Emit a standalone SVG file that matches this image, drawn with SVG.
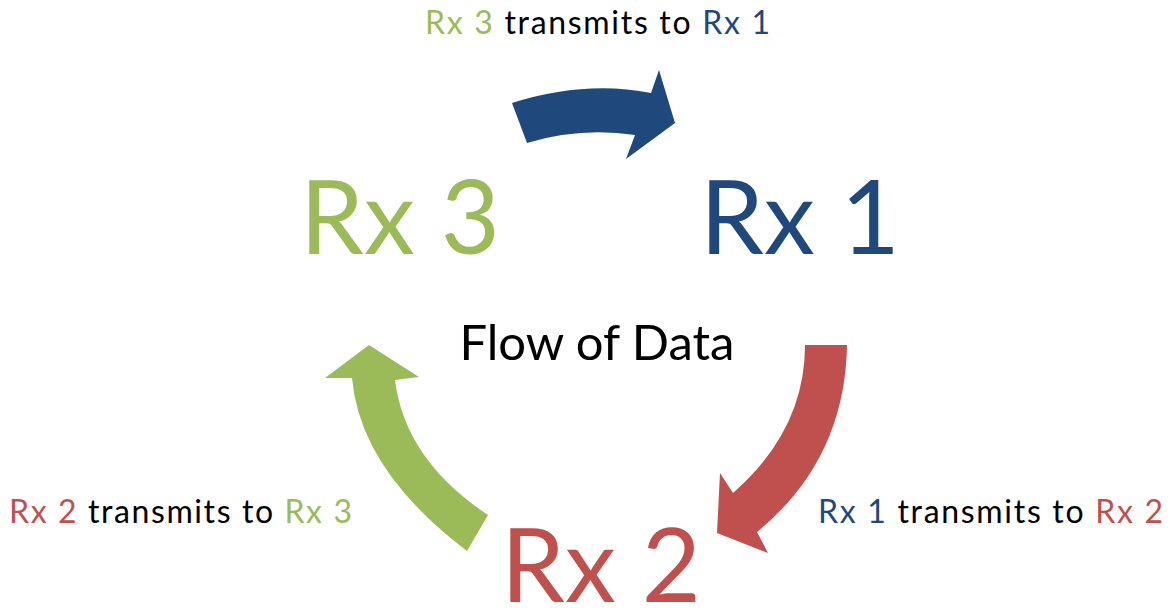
<svg xmlns="http://www.w3.org/2000/svg" width="1171" height="611" viewBox="0 0 1171 611">
<style>
text{font-family:Lato,"Open Sans","Liberation Sans",sans-serif}
.big{font-size:102px}
.lbl{font-size:32px;fill:#000}
.g{fill:#9BBB59}.b{fill:#1F497D}.r{fill:#C0504D}
</style>
<rect width="1171" height="611" fill="#fff"/>
<g id="connectors">
<path id="arrow-3-1" class="b" d="M512,103 Q585,80 651,93 L659,70 L675,123 L626,159 L635,135 Q580,127 527,143 Z"/>
<path id="arrow-1-2" class="r" d="M805,345 L847,345 Q845,460 757,532 L768,553 L717,533 L720,473 L733,493 Q805,430 805,345 Z"/>
<path id="arrow-2-3" class="g" d="M467,551 Q360,470 352,378 L325,378 L369,345 L419,377 L395,380 Q405,460 488,515 Z"/>
</g>
<g id="rx3"><text class="big g" x="300" y="254">Rx 3</text></g>
<g id="rx1"><text class="big b" x="700" y="254">Rx 1</text></g>
<g id="rx2"><text class="big r" x="501" y="602">Rx 2</text></g>
<g id="center"><text x="597" y="360" font-size="49" text-anchor="middle" fill="#000">Flow of Data</text></g>
<g id="label-top"><text class="lbl" x="425" y="34" textLength="345" lengthAdjust="spacing"><tspan class="g">Rx 3</tspan> transmits to <tspan class="b">Rx 1</tspan></text></g>
<g id="label-left"><text class="lbl" x="9" y="523" textLength="343" lengthAdjust="spacing"><tspan class="r">Rx 2</tspan> transmits to <tspan class="g">Rx 3</tspan></text></g>
<g id="label-right"><text class="lbl" x="818" y="523" textLength="345" lengthAdjust="spacing"><tspan class="b">Rx 1</tspan> transmits to <tspan class="r">Rx 2</tspan></text></g>
</svg>
